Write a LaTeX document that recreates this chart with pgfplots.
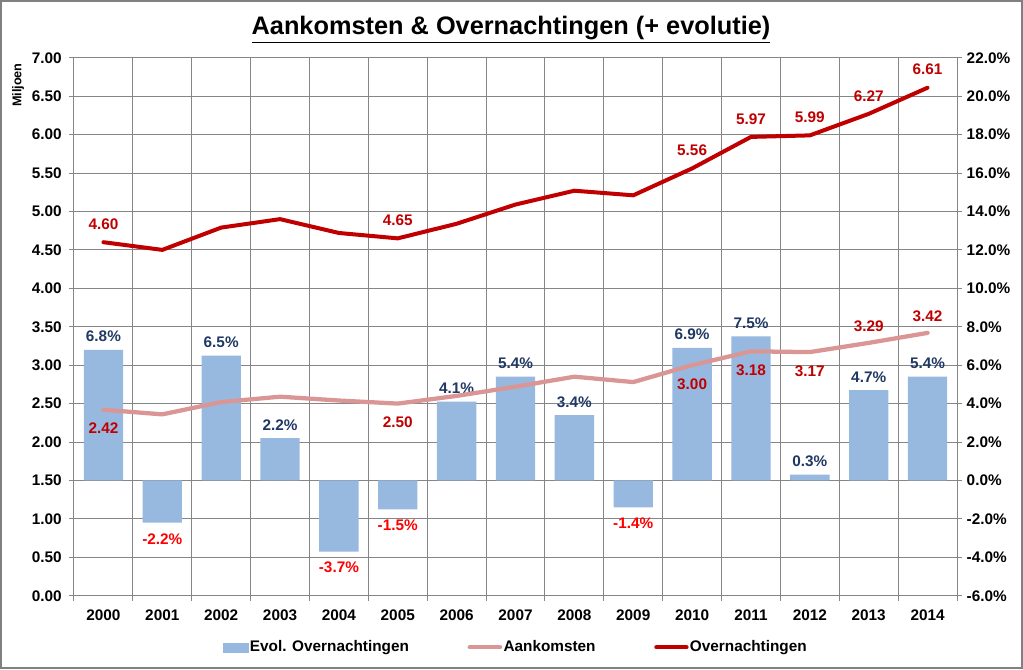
\documentclass[border=0pt]{standalone}
\usepackage{pgfplots}
\pgfplotsset{compat=1.18}
\usepackage{fontspec}
\setmainfont{Liberation Sans}

\definecolor{barblue}{RGB}{151,185,224}
\definecolor{ovred}{RGB}{192,0,0}
\definecolor{aanpink}{RGB}{217,150,148}
\definecolor{navy}{RGB}{31,56,100}
\definecolor{negred}{RGB}{255,0,0}
\definecolor{gridgray}{RGB}{134,134,134}

\newcommand{\lblfont}{\bfseries\fontsize{11.5}{13}\selectfont}

\pgfplotsset{
  base/.style={
    scale only axis, width=662.25pt, height=403.5pt,
    at={(0,0)}, anchor=south west,
    xmin=-0.5, xmax=14.5,
    tick align=outside, major tick length=3.75pt,
    tick style={gridgray, line width=0.75pt},
    axis line style={gridgray, line width=0.75pt},
    ticklabel style={font=\lblfont},
    /pgf/number format/assume math mode=true,
  },
  linelegend/.style={legend image code/.code={\draw[##1] (0cm,0cm) -- (0.8cm,0cm);}},
}

\begin{document}
\begin{tikzpicture}
\path[use as bounding box] (-55.5pt,-55pt) rectangle (711.75pt,446.8pt);
\draw[black!50, line width=1.2pt] (-54.9pt,-54.4pt) rectangle (711.15pt,446.2pt);

% evolution bars, right axis
\begin{axis}[base,
  axis x line*=bottom, axis y line*=right,
  ymin=-6, ymax=22,
  ytick={-6,-4,...,22},
  yticklabels={-6.0\%,-4.0\%,-2.0\%,0.0\%,2.0\%,4.0\%,6.0\%,8.0\%,10.0\%,12.0\%,14.0\%,16.0\%,18.0\%,20.0\%,22.0\%},
  xtick={-0.5,0.5,...,14.5}, xticklabels={},
  extra x ticks={0,1,...,14},
  extra x tick labels={2000,2001,2002,2003,2004,2005,2006,2007,2008,2009,2010,2011,2012,2013,2014},
  extra x tick style={major tick length=0pt, grid=none,
    xticklabel style={yshift=-7pt}},
  grid=major, grid style={gridgray, line width=0.75pt},
]
\addplot[ybar, bar width=29.5pt, bar shift=0pt, fill=barblue, draw=none,
  point meta=y,
  nodes near coords={\pgfmathprintnumber[fixed,precision=1,fixed zerofill]{\pgfplotspointmeta}\%},
  nodes near coords style={navy, font=\lblfont, anchor=center, yshift=10pt}]
  coordinates {(0,6.8) (2,6.5) (3,2.2) (6,4.1) (7,5.4) (8,3.4) (10,6.9) (11,7.5) (12,0.3) (13,4.7) (14,5.4)};
\addplot[ybar, bar width=29.5pt, bar shift=0pt, fill=barblue, draw=none,
  point meta=y,
  nodes near coords={\pgfmathprintnumber[fixed,precision=1,fixed zerofill]{\pgfplotspointmeta}\%},
  nodes near coords style={negred, font=\lblfont, anchor=center, yshift=-12pt}]
  coordinates {(1,-2.2) (4,-3.7) (5,-1.5) (9,-1.4)};
\end{axis}

% arrivals and overnight stays, left axis
\begin{axis}[base,
  axis x line=none, axis y line*=left,
  ymin=0, ymax=7,
  ytick={0,0.5,...,7},
  yticklabels={0.00,0.50,1.00,1.50,2.00,2.50,3.00,3.50,4.00,4.50,5.00,5.50,6.00,6.50,7.00},
  yticklabel style={xshift=-2pt},
  ylabel={Miljoen},
  ylabel style={at={(axis description cs:-0.0634,0.949)}, anchor=center, font=\bfseries\fontsize{9.5}{11}\selectfont},
  legend style={at={(0.5,-0.0959)}, anchor=center, draw=none, fill=none,
    legend columns=3, font=\lblfont, inner sep=0pt,
    nodes={inner xsep=1pt},
    /tikz/every even column/.append style={column sep=43pt}},
  legend cell align=left,
]
\addlegendimage{legend image code/.code={\fill[barblue] (0cm,-0.12cm) rectangle (0.66cm,0.12cm);}}
\addlegendentry{Evol. Overnachtingen}
\addplot[aanpink, line width=3.2pt, line join=round, line cap=round, linelegend]
  coordinates {(0,2.42) (1,2.36) (2,2.52) (3,2.59) (4,2.54) (5,2.50) (6,2.60) (7,2.72) (8,2.85) (9,2.78) (10,3.00) (11,3.18) (12,3.17) (13,3.29) (14,3.42)};
\addlegendentry{Aankomsten}
\addplot[ovred, line width=3pt, line join=round, line cap=round, linelegend]
  coordinates {(0,4.60) (1,4.50) (2,4.79) (3,4.90) (4,4.72) (5,4.65) (6,4.84) (7,5.09) (8,5.27) (9,5.21) (10,5.56) (11,5.97) (12,5.99) (13,6.27) (14,6.61)};
\addlegendentry{Overnachtingen}
% data labels
\addplot[draw=none, mark=none, forget plot, point meta=y,
  nodes near coords={\pgfmathprintnumber[fixed,precision=2,fixed zerofill]{\pgfplotspointmeta}},
  nodes near coords style={ovred, font=\lblfont, anchor=center, yshift=13.5pt}]
  coordinates {(0,4.60) (5,4.65) (10,5.56) (11,5.97) (12,5.99) (13,6.27) (14,6.61)};
\addplot[draw=none, mark=none, forget plot, point meta=y,
  nodes near coords={\pgfmathprintnumber[fixed,precision=2,fixed zerofill]{\pgfplotspointmeta}},
  nodes near coords style={ovred, font=\lblfont, anchor=center, yshift=-14pt}]
  coordinates {(0,2.42) (5,2.50) (10,3.00) (11,3.18) (12,3.17)};
\addplot[draw=none, mark=none, forget plot, point meta=y,
  nodes near coords={\pgfmathprintnumber[fixed,precision=2,fixed zerofill]{\pgfplotspointmeta}},
  nodes near coords style={ovred, font=\lblfont, anchor=center, yshift=12.5pt}]
  coordinates {(13,3.29) (14,3.42)};
\end{axis}

\node[font=\bfseries\fontsize{19}{23}\selectfont] at (327.75pt,424.5pt)
  {\underline{Aankomsten \& Overnachtingen (+ evolutie)}};
\end{tikzpicture}
\end{document}
